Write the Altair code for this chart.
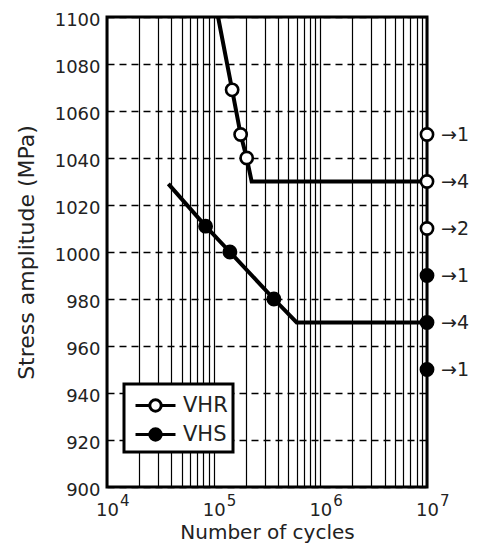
import altair as alt
import pandas as pd

# ---------------- data ----------------
series_names = ["VHR", "VHS"]

vhr_line_cycles = [1.10e5, 1.49e5, 1.79e5, 2.04e5, 2.27e5, 1.0e7]
vhr_line_stress = [1100, 1069, 1050, 1040, 1030, 1030]
vhs_line_cycles = [3.76e4, 8.4e4, 1.42e5, 3.67e5, 6.0e5, 1.0e7]
vhs_line_stress = [1029, 1011, 1000, 980, 970, 970]

vhr_point_cycles = [1.49e5, 1.79e5, 2.04e5]
vhr_point_stress = [1069, 1050, 1040]
vhs_point_cycles = [8.4e4, 1.42e5, 3.67e5]
vhs_point_stress = [1011, 1000, 980]

runout_cycles = 1.0e7
vhr_runout_stress = [1050, 1030, 1010]
vhr_runout_count = ["1", "4", "2"]
vhs_runout_stress = [990, 970, 950]
vhs_runout_count = ["1", "4", "1"]

x_major = [1e4, 1e5, 1e6, 1e7]
x_major_base = ["10", "10", "10", "10"]
x_major_exp = ["4", "5", "6", "7"]
x_grid = [m * 10 ** e for e in (4, 5, 6) for m in range(1, 10)] + [1e7]
y_ticks = [900, 920, 940, 960, 980, 1000, 1020, 1040, 1060, 1080, 1100]

FONT = "DejaVu Sans"
TXT = "#222222"

# ---------------- tables ----------------
lines_df = pd.DataFrame(
    {"cycles": vhr_line_cycles + vhs_line_cycles,
     "stress": vhr_line_stress + vhs_line_stress,
     "series": [series_names[0]] * len(vhr_line_cycles) + [series_names[1]] * len(vhs_line_cycles)}
)
pts_df = pd.DataFrame(
    {"cycles": vhr_point_cycles + [runout_cycles] * 3 + vhs_point_cycles + [runout_cycles] * 3,
     "stress": vhr_point_stress + vhr_runout_stress + vhs_point_stress + vhs_runout_stress,
     "series": [series_names[0]] * 6 + [series_names[1]] * 6}
)
runout_df = pd.DataFrame(
    {"cycles": [runout_cycles] * 6,
     "stress": vhr_runout_stress + vhs_runout_stress,
     "label": ["\u2192" + c for c in vhr_runout_count + vhs_runout_count]}
)
exp_df = pd.DataFrame({"cycles": x_major, "stress": [900] * 4, "exp": x_major_exp})

label_expr = " : ".join(
    f"datum.value == {int(v)} ? '{b}'" for v, b in zip(x_major, x_major_base)
) + " : ''"

x_enc = alt.X(
    "cycles:Q",
    scale=alt.Scale(type="log", domain=[1e4, 1e7], nice=False),
    axis=alt.Axis(
        values=x_grid, labelExpr=label_expr, title="Number of cycles",
        grid=True, gridColor="#000000", gridWidth=1.2, gridDash=[],
        ticks=False, domain=False, labelOverlap=False, labelBound=False,
        labelFontSize=18, labelFont=FONT, labelColor=TXT,
        labelBaseline="alphabetic", labelPadding=28, labelFlush=False,
        titleFontSize=20, titleFont=FONT, titleColor=TXT, titleFontWeight="normal",
        titleBaseline="alphabetic", titleY=51,
    ),
)
y_enc = alt.Y(
    "stress:Q",
    scale=alt.Scale(domain=[900, 1100], nice=False, zero=False),
    axis=alt.Axis(
        values=y_ticks, format="d", title="Stress amplitude (MPa)",
        grid=True, gridColor="#000000", gridWidth=1.3, gridDash=[7, 5],
        ticks=False, domain=False, labelFlush=False,
        labelFontSize=18, labelFont=FONT, labelColor=TXT, labelPadding=7, labelOffset=3,
        titleFontSize=22, titleFont=FONT, titleColor=TXT, titleFontWeight="normal",
        titleBaseline="alphabetic", titleX=-74,
    ),
)

r = 0.38
L = 1.333
sym_path = (f"M{-L},0L{-r},0M{r},0L{L},0"
            f"M{-r},0A{r},{r},0,1,1,{r},0A{r},{r},0,1,1,{-r},0Z")

lines = alt.Chart(lines_df).mark_line(color="black", strokeWidth=4).encode(
    x=x_enc, y=y_enc, detail="series:N"
)

points = alt.Chart(pts_df).mark_point(
    filled=True, stroke="black", strokeWidth=2.6, size=150, opacity=1
).encode(
    x=x_enc, y=y_enc,
    fill=alt.Fill(
        "series:N",
        scale=alt.Scale(domain=series_names, range=["white", "black"]),
        legend=alt.Legend(
            title=None, orient="none", legendX=17, legendY=367,
            symbolType=sym_path, symbolSize=900, symbolStrokeColor="black",
            symbolStrokeWidth=3, symbolOffset=10,
            labelFontSize=21, labelFont=FONT, labelColor=TXT, labelOffset=11,
            labelExpr="datum.label + '\u00a0'",
            strokeColor="black", fillColor="white", padding=5, rowPadding=-6,
        ),
    ),
)

runout_text = alt.Chart(runout_df).mark_text(
    align="left", baseline="middle", dx=14, fontSize=19, font=FONT, color=TXT
).encode(x=x_enc, y=y_enc, text="label:N")

exp_text = alt.Chart(exp_df).mark_text(
    align="left", baseline="alphabetic", dx=13, dy=19, fontSize=15, font=FONT, color=TXT
).encode(x=x_enc, y=y_enc, text="exp:N")

chart = alt.layer(lines, points, runout_text, exp_text).properties(
    width=320, height=470,
    autosize=alt.AutoSizeParams(type="none"),
    padding={"left": 99, "top": 9, "right": 43, "bottom": 56},
).configure_view(
    stroke="black", strokeWidth=3
).configure_legend(
    strokeWidth=3
)

chart.save("out.html", embed_options={"renderer": "svg", "actions": False})
